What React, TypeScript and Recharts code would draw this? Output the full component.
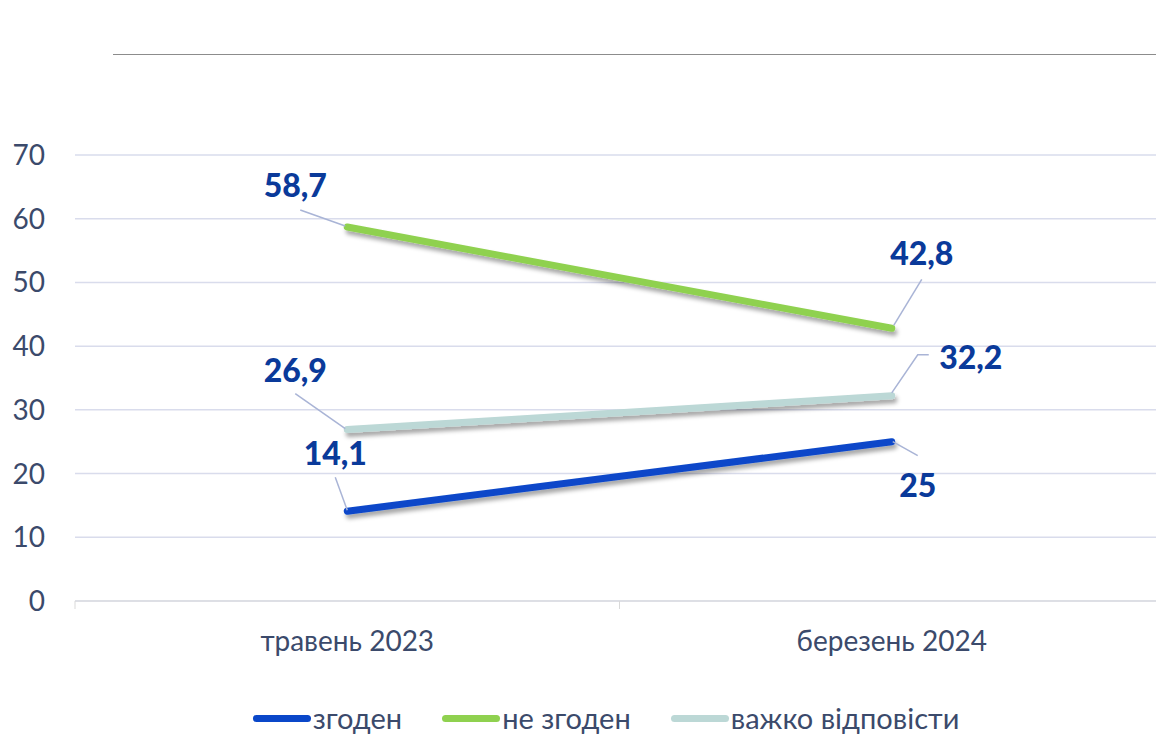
import { CartesianGrid, Line, LineChart, XAxis, YAxis, LabelList } from "recharts";

const periods = ["травень 2023", "березень 2024"];
const agree = [14.1, 25];
const disagree = [58.7, 42.8];
const hard = [26.9, 32.2];
const yTicks = [0, 10, 20, 30, 40, 50, 60, 70];

const data = periods.map((p, i) => ({
  name: p,
  agree: agree[i],
  disagree: disagree[i],
  hard: hard[i],
}));

const FONT = "Lato, 'Open Sans', sans-serif";
const TEXT = "#3b4a6b";
const LABEL = "#0a3a9a";
const LEADER = "#a9b4d6";

const W = 1164;
const H = 735;
const PLOT_LEFT = 75;
const HALF_BAND = (W - PLOT_LEFT) / 4;

// label placement per series / point: text offset and leader polyline, relative to the point
const placements: Record<string, { dx: number; dy: number; path: number[][] }[]> = {
  disagree: [
    { dx: -52, dy: -42, path: [[-47, -17], [-2, -1]] },
    { dx: 30, dy: -76, path: [[30, -49], [2, -3]] },
  ],
  hard: [
    { dx: -52, dy: -60, path: [[-52, -36], [-2, -1]] },
    { dx: 79, dy: -39, path: [[37, -41], [26, -41], [0, -3]] },
  ],
  agree: [
    { dx: -12, dy: -59, path: [[-12, -34], [0, -1]] },
    { dx: 26, dy: 43, path: [[1, 0], [26, 14]] },
  ],
};

const series = [
  { key: "agree", name: "згоден", color: "#0a47c9" },
  { key: "disagree", name: "не згоден", color: "#8fd14f" },
  { key: "hard", name: "важко відповісти", color: "#bcd8d6" },
];

const makeLabel = (key: string) => (props: any) => {
  const { x, y, value, index } = props;
  const pl = placements[key][index];
  const pts = pl.path.map(([a, b]) => `${x + a},${y + b}`).join(" ");
  return (
    <g>
      <polyline points={pts} fill="none" stroke={LEADER} strokeWidth={1.5} />
      <text
        x={x + pl.dx}
        y={y + pl.dy}
        textAnchor="middle"
        dominantBaseline="central"
        fill={LABEL}
        fontSize={32}
        fontWeight={900}
        fontFamily={FONT}
      >
        {String(value).replace(".", ",")}
      </text>
    </g>
  );
};

const XTick = (props: any) => {
  const { x, y, payload, index } = props;
  const axisY = y - 8;
  return (
    <g>
      <line x1={x - HALF_BAND} y1={axisY} x2={x - HALF_BAND} y2={axisY + 8} stroke="#d9d9d9" />
      {index === periods.length - 1 && (
        <line x1={x + HALF_BAND} y1={axisY} x2={x + HALF_BAND} y2={axisY + 8} stroke="#d9d9d9" />
      )}
      <text x={x} y={axisY + 39} textAnchor="middle" dominantBaseline="central" fill={TEXT} fontSize={28} fontFamily={FONT}>
        {payload.value}
      </text>
    </g>
  );
};

export default function App() {
  return (
    <div style={{ position: "absolute", left: 0, top: 0, width: 1156, height: 735, overflow: "hidden", background: "#fff", fontFamily: FONT }}>
      <div style={{ position: "absolute", left: 113, top: 54, width: 1043, height: 1, background: "#8c8c8c" }} />
      <LineChart width={W} height={H} data={data} margin={{ top: 155, right: 0, left: 0, bottom: 104 }}>
        <defs>
          <filter id="shadow" x="-10%" y="-50%" width="120%" height="200%">
            <feDropShadow dx={2} dy={4} stdDeviation={2} floodColor="#000" floodOpacity={0.35} />
          </filter>
        </defs>
        <CartesianGrid vertical={false} stroke="#d9dcec" strokeWidth={1.5} />
        <XAxis
          dataKey="name"
          height={30}
          padding={{ left: HALF_BAND, right: HALF_BAND }}
          axisLine={{ stroke: "#d9d9d9" }}
          tickLine={false}
          tick={<XTick />}
          tickSize={0}
          tickMargin={8}
          interval={0}
        />
        <YAxis
          width={PLOT_LEFT}
          domain={[0, 70]}
          ticks={yTicks}
          axisLine={false}
          tickLine={false}
          tickMargin={24}
          tick={{ fill: TEXT, fontSize: 28, fontFamily: FONT }}
        />
        {series.map((s) => (
          <Line
            key={s.key}
            dataKey={s.key}
            name={s.name}
            stroke={s.color}
            strokeWidth={7}
            strokeLinecap="round"
            dot={false}
            activeDot={false}
            filter="url(#shadow)"
            isAnimationActive={false}
          >
            <LabelList dataKey={s.key} content={makeLabel(s.key)} />
          </Line>
        ))}
      </LineChart>
      <div
        style={{
          position: "absolute",
          top: 702,
          left: 0,
          width: 1212,
          display: "flex",
          justifyContent: "center",
          gap: 40,
          fontSize: 29,
          color: TEXT,
          lineHeight: "32px",
        }}
      >
        {series.map((s) => (
          <div key={s.key} style={{ display: "flex", alignItems: "center" }}>
            <span style={{ display: "inline-block", width: 58, height: 7, borderRadius: 4, background: s.color, marginRight: 2 }} />
            <span>{s.name}</span>
          </div>
        ))}
      </div>
    </div>
  );
}
